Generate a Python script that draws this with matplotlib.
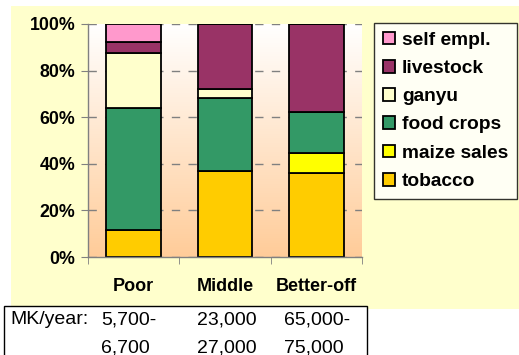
import numpy as np
import matplotlib.pyplot as plt
from matplotlib.patches import Rectangle
from matplotlib.colors import LinearSegmentedColormap

plt.rcParams['font.family'] = ['Liberation Sans', 'DejaVu Sans']

groups = ['Poor', 'Middle', 'Better-off']
sources = ['tobacco', 'maize sales', 'food crops', 'ganyu', 'livestock', 'self empl.']
shares = {
    'tobacco':     [11.6, 36.7, 36.2],
    'maize sales': [0.0, 0.0, 8.3],
    'food crops':  [52.3, 31.7, 17.9],
    'ganyu':       [23.8, 3.8, 0.0],
    'livestock':   [4.7, 27.8, 37.6],
    'self empl.':  [7.6, 0.0, 0.0],
}
colors = ['#FFCC00', '#FFFF00', '#339966', '#FFFFCC', '#993366', '#FF99CC']
income_line1 = ['5,700-', '23,000', '65,000-']
income_line2 = ['6,700', '27,000', '75,000']

W, H = 519, 355
fig = plt.figure(figsize=(W / 100, H / 100), dpi=100)
fig.patch.set_facecolor('white')

def fx(px):
    return px / W

def fy(py):
    return 1 - py / H

# pale yellow chart area
fig.patches.append(Rectangle((fx(11), fy(309)), fx(W - 11), (309 - 6) / H,
                             transform=fig.transFigure, facecolor='#FFFFCC',
                             edgecolor='none', zorder=-5))

ax = fig.add_axes([fx(88), fy(257), fx(274), (257 - 24) / H])
ax.set_facecolor('none')

# gradient plot background
grad = np.linspace(0, 1, 256).reshape(-1, 1)
cmap = LinearSegmentedColormap.from_list('bg', ['#FFFFFF', '#FFCC99'])
ax.imshow(grad, cmap=cmap, extent=[0, 1, 0, 1], transform=ax.transAxes,
          aspect='auto', zorder=0)

x = np.arange(len(groups))
bottom = np.zeros(len(groups))
handles = []
for name, c in zip(sources, colors):
    vals = np.array(shares[name])
    b = ax.bar(x, vals, 0.6, bottom=bottom, color=c, edgecolor='black',
               linewidth=1.3, zorder=3, label=name)
    handles.append(b)
    bottom += vals

ax.set_xlim(-0.5, 2.5)
ax.set_ylim(0, 100)
ax.set_yticks(np.arange(0, 101, 20))
ax.set_yticklabels([f'{v}%' for v in range(0, 101, 20)])
ax.yaxis.grid(True, color='#808080', linestyle=(0, (6, 6)), linewidth=1, zorder=1)
ax.set_axisbelow(True)
ax.set_xticks(x)
ax.set_xticklabels(groups)
ax.set_xticks([-0.5, 0.5, 1.5, 2.5], minor=True)
ax.tick_params(axis='x', which='major', length=0, pad=15, labelsize=13)
ax.tick_params(axis='x', which='minor', length=5, color='#808080', direction='out')
ax.tick_params(axis='y', length=5, color='#808080', pad=4, labelsize=12.8)
for lab in ax.get_xticklabels() + ax.get_yticklabels():
    lab.set_fontweight('bold')
for side in ['top', 'right']:
    ax.spines[side].set_visible(False)
for side in ['left', 'bottom']:
    ax.spines[side].set_color('#808080')
    ax.spines[side].set_linewidth(1)
    ax.spines[side].set_zorder(4)

leg = fig.legend(handles[::-1], sources[::-1], loc='upper left',
                 bbox_to_anchor=(fx(374), fy(23)), borderaxespad=0,
                 frameon=True, fancybox=False, edgecolor='black',
                 handlelength=0.65, handleheight=0.65, handletextpad=0.35,
                 labelspacing=0.58, borderpad=0.45,
                 prop={'weight': 'bold', 'size': 13.8})
leg.get_frame().set_linewidth(1)
leg.get_frame().set_facecolor('white')
for p in leg.get_patches():
    p.set_linewidth(1.3)

# income table below the chart
fig.patches.append(Rectangle((fx(4), fy(360)), fx(367 - 4), (360 - 306) / H,
                             transform=fig.transFigure, facecolor='white',
                             edgecolor='black', linewidth=1, zorder=5))
fig.text(fx(10), fy(320), 'MK/year:', fontsize=14, va='center', ha='left', zorder=6)
col_x = [101, 197, 284]
for cx, l1, l2 in zip(col_x, income_line1, income_line2):
    fig.text(fx(cx), fy(320), l1, fontsize=14, va='center', ha='left', zorder=6)
    fig.text(fx(cx), fy(348), l2, fontsize=14, va='center', ha='left', zorder=6)

fig.savefig('out.png', dpi=100)
